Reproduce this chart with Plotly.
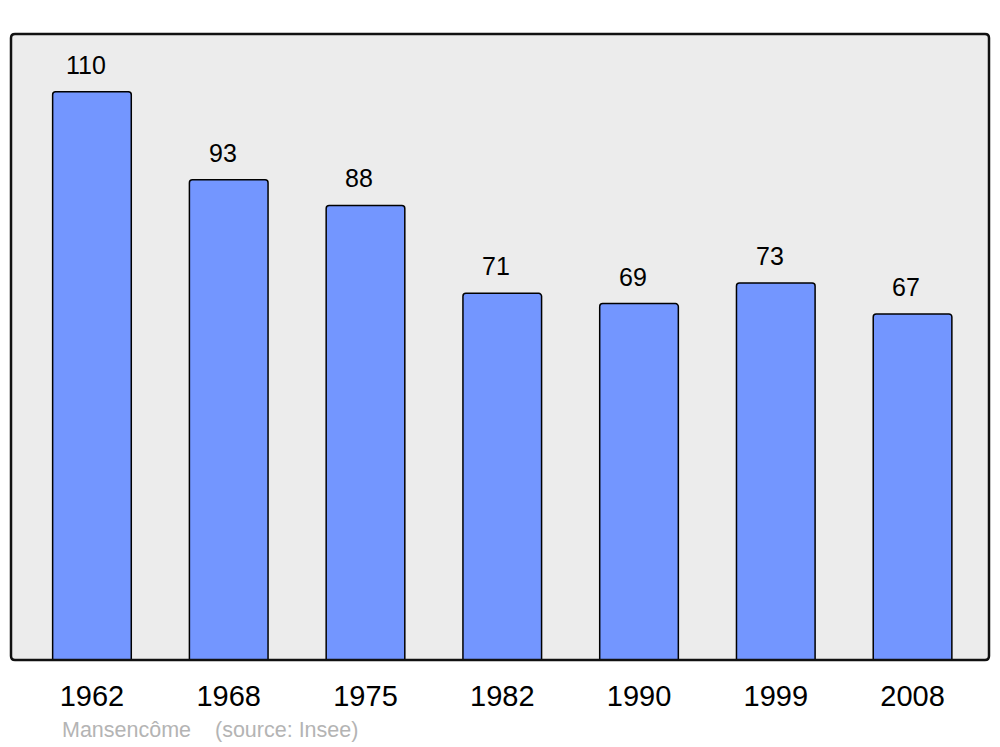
import plotly.graph_objects as go

years = ["1962", "1968", "1975", "1982", "1990", "1999", "2008"]
population = [110, 93, 88, 71, 69, 73, 67]
commune = "Mansencôme"
source_note = "(source: Insee)"

xpos = list(range(len(years)))
FONT = "Liberation Sans, Arial"

fig = go.Figure()
fig.add_trace(go.Bar(
    x=xpos, y=population, width=0.575,
    marker=dict(color="#7396ff", line=dict(color="#000000", width=1.5), cornerradius=3),
    hoverinfo="skip",
))

for i, v in zip(xpos, population):
    fig.add_annotation(x=i - 0.045, y=v, text=str(v), showarrow=False,
                       yanchor="middle", yshift=27,
                       font=dict(family=FONT, size=25, color="#000000"))

fig.add_annotation(xref="paper", yref="paper", x=(60 - 11) / 978, y=(660 - 730) / 626,
                   xanchor="left", yanchor="middle", showarrow=False, text=commune,
                   font=dict(family=FONT, size=21.5, color="#b4b4b4"))
fig.add_annotation(xref="paper", yref="paper", x=(213 - 11) / 978, y=(660 - 730) / 626,
                   xanchor="left", yanchor="middle", showarrow=False, text=source_note,
                   font=dict(family=FONT, size=21.5, color="#b4b4b4"))

# rounded-corner frame (paper coordinates)
W, H = 978.0, 626.0
rx, ry = 4 / W, 4 / H
frame = (f"M {rx},0 L {1-rx},0 Q 1,0 1,{ry} L 1,{1-ry} Q 1,1 {1-rx},1 "
         f"L {rx},1 Q 0,1 0,{1-ry} L 0,{ry} Q 0,0 {rx},0 Z")
fig.add_shape(type="path", xref="paper", yref="paper", path=frame,
              line=dict(color="#111111", width=2.5), layer="above")

fig.update_layout(
    width=1000, height=747,
    margin=dict(l=11, r=11, t=34, b=87),
    paper_bgcolor="#ffffff", plot_bgcolor="#ececec",
    showlegend=False,
    xaxis=dict(range=[-0.592, 6.559], tickmode="array", tickvals=xpos, ticktext=years,
               showgrid=False, zeroline=False, showline=False, ticks="",
               ticklabelstandoff=16,
               tickfont=dict(family=FONT, size=29, color="#000000")),
    yaxis=dict(range=[0, 121.2], showgrid=False, zeroline=False, showticklabels=False,
               showline=False, ticks=""),
)

fig.write_html("out.html", config={"displayModeBar": False},
               post_script="document.body.style.margin='0';document.body.style.overflow='hidden';")
